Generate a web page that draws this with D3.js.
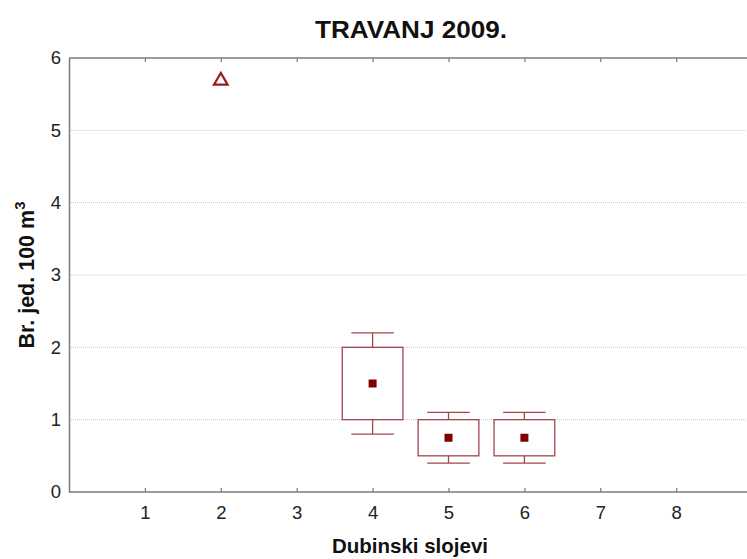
<!DOCTYPE html>
<html>
<head>
<meta charset="utf-8">
<script src="https://cdn.jsdelivr.net/npm/d3@7"></script>
<style>
  html, body { margin: 0; padding: 0; background: #fff; }
  svg { display: block; font-family: "Liberation Sans", Arial, sans-serif; }
</style>
</head>
<body>
<svg id="chart" width="747" height="559"></svg>
<script>
// ---- data ----
const boxCategories = [4, 5, 6];
const boxMeans      = [1.5, 0.75, 0.75];
const boxLower      = [1.0, 0.5, 0.5];
const boxUpper      = [2.0, 1.0, 1.0];
const whiskerLow    = [0.8, 0.4, 0.4];
const whiskerHigh   = [2.2, 1.1, 1.1];
const extremeCategories = [2];
const extremeValues     = [5.7];
const xTicks = [1, 2, 3, 4, 5, 6, 7, 8];
const yTicks = [0, 1, 2, 3, 4, 5, 6];
const titleText = "TRAVANJ 2009.";
const xTitle = "Dubinski slojevi";

(function () {
// ---- layout ----
const svg = d3.select("#chart");
const mLeft = 69, mTop = 58, mBottom = 492;
const unitX = 75.9;
const x = d3.scaleLinear().domain([0, 9]).range([mLeft, mLeft + 9 * unitX]);
const y = d3.scaleLinear().domain([0, 6]).range([mBottom, mTop]);

const boxes = boxCategories.map((c, i) => ({
  c, mean: boxMeans[i], lo: boxLower[i], hi: boxUpper[i], wl: whiskerLow[i], wh: whiskerHigh[i]
}));

// grid lines
svg.append("g").selectAll("line").data(yTicks.filter(t => t > 0 && t < 6)).join("line")
  .attr("x1", mLeft).attr("x2", 747)
  .attr("y1", d => y(d)).attr("y2", d => y(d))
  .attr("stroke", "#c8c8c8").attr("stroke-width", 1).attr("stroke-dasharray", "1,1");

// axes
const axisColor = "#7a7a7a";
const gx = svg.append("g").attr("transform", `translate(0,${mBottom})`)
  .call(d3.axisBottom(x).tickValues(xTicks).tickSize(-4).tickPadding(14).tickFormat(d3.format("d")));
const gxTop = svg.append("g").attr("transform", `translate(0,${mTop})`)
  .call(d3.axisTop(x).tickValues(xTicks).tickSize(-4).tickFormat(""));
const gy = svg.append("g").attr("transform", `translate(${mLeft},0)`)
  .call(d3.axisLeft(y).tickValues(yTicks).tickSize(0).tickPadding(8).tickFormat(d3.format("d")));

[gx, gxTop, gy].forEach(g => {
  g.select(".domain").attr("stroke", axisColor).attr("stroke-width", 1.5);
  g.selectAll(".tick line").attr("stroke", axisColor).attr("stroke-width", 1.2);
  g.selectAll(".tick text").attr("fill", "#222").style("font-size", "18.5px")
    .style("font-family", "'Liberation Sans', Arial, sans-serif");
});
gx.select(".domain").attr("d", `M${mLeft},0H747`);
gxTop.select(".domain").attr("d", `M${mLeft},0H747`);

// boxes
const boxColor = "#a0474d";
const halfBox = 0.4, halfCap = 0.28;
const bg = svg.append("g");
boxes.forEach(b => {
  const g = bg.append("g");
  g.append("rect")
    .attr("x", x(b.c - halfBox)).attr("width", x(b.c + halfBox) - x(b.c - halfBox))
    .attr("y", y(b.hi)).attr("height", y(b.lo) - y(b.hi))
    .attr("fill", "none").attr("stroke", boxColor).attr("stroke-width", 1.3);
  g.append("line").attr("x1", x(b.c)).attr("x2", x(b.c)).attr("y1", y(b.hi)).attr("y2", y(b.wh))
    .attr("stroke", boxColor).attr("stroke-width", 1.3);
  g.append("line").attr("x1", x(b.c)).attr("x2", x(b.c)).attr("y1", y(b.lo)).attr("y2", y(b.wl))
    .attr("stroke", boxColor).attr("stroke-width", 1.3);
  g.append("line").attr("x1", x(b.c - halfCap)).attr("x2", x(b.c + halfCap)).attr("y1", y(b.wh)).attr("y2", y(b.wh))
    .attr("stroke", boxColor).attr("stroke-width", 1.3);
  g.append("line").attr("x1", x(b.c - halfCap)).attr("x2", x(b.c + halfCap)).attr("y1", y(b.wl)).attr("y2", y(b.wl))
    .attr("stroke", boxColor).attr("stroke-width", 1.3);
  g.append("rect")
    .attr("x", x(b.c) - 4).attr("y", y(b.mean) - 4).attr("width", 8).attr("height", 8)
    .attr("fill", "#800000");
});

// extreme markers (triangles)
const tri = d3.symbol().type(d3.symbolTriangle).size(80);
svg.append("g").selectAll("path").data(extremeCategories.map((c, i) => ({ c, v: extremeValues[i] }))).join("path")
  .attr("d", tri)
  .attr("transform", d => `translate(${x(d.c)},${y(d.v) + 1})`)
  .attr("fill", "none").attr("stroke", "#9b1c1c").attr("stroke-width", 2.2);

// titles
svg.append("text").attr("x", 411).attr("y", 38).attr("text-anchor", "middle")
  .style("font-size", "23px").style("font-weight", "bold").attr("fill", "#111")
  .attr("textLength", 192).attr("lengthAdjust", "spacingAndGlyphs")
  .text(titleText);

svg.append("text").attr("x", 410).attr("y", 553).attr("text-anchor", "middle")
  .style("font-size", "20.5px").style("font-weight", "bold").attr("fill", "#111")
  .text(xTitle);

const yt = svg.append("text").attr("transform", "translate(34,275) rotate(-90)")
  .attr("text-anchor", "middle").style("font-size", "21.5px").style("font-weight", "bold").attr("fill", "#111");
yt.append("tspan").text("Br. jed. 100 m");
yt.append("tspan").attr("dy", -9).style("font-size", "15px").text("3");
})();
</script>
</body>
</html>
